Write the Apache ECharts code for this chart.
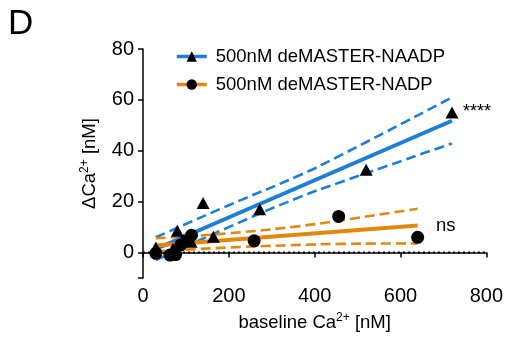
<!DOCTYPE html>
<html>
<head>
<meta charset="utf-8">
<script src="https://cdn.jsdelivr.net/npm/echarts@6/dist/echarts.min.js"></script>
<style>html,body{margin:0;padding:0;background:#fff}#c{width:506px;height:345px}</style>
</head>
<body>
<div id="c"></div>
<script>
// ---- data ----
const naadpName = '500nM deMASTER-NAADP';
const nadpName = '500nM deMASTER-NADP';
const naadpX = [30, 70, 80, 95, 112, 140, 164, 272, 520, 720];
const naadpY = [2, 1.5, 8.6, 5, 4.2, 19.5, 6.2, 17, 32.5, 55];
const nadpX = [30, 63, 76, 88, 100, 113, 259, 456, 640];
const nadpY = [-0.3, -1, -0.8, 3, 4.5, 6.8, 4.6, 14.2, 6];
// regression fit lines (end points) and confidence bands
const naadpFitX = [30, 720];
const naadpFitY = [1.4, 51.8];
const naadpBandX = [30, 200, 365, 458, 720];
const naadpUpperY = [6.0, 18.6, 30.4, 38.0, 61.0];
const naadpLowerY = [-3.0, 10.0, 21.8, 27.5, 42.9];
const nadpFitX = [30, 640];
const nadpFitY = [2.8, 10.6];
const nadpBandX = [30, 202, 365, 458, 640];
const nadpUpperY = [5.6, 7.6, 10.4, 12.6, 17.2];
const nadpLowerY = [0.5, 2.0, 3.0, 3.4, 3.6];
const zeroLineX = [0, 800];
const zeroLineY = [0, 0];
const xTicks = [0, 200, 400, 600, 800];
const yTickValues = [-10, 0, 20, 40, 60, 80];
const yLabelValues = [0, 20, 40, 60, 80];

const BLUE = '#1b7fd8';
const ORANGE = '#e4870f';
const FONT = 'Arial, "Liberation Sans", sans-serif';
const zip = (xs, ys) => xs.map((x, i) => [x, ys[i]]);

const chart = echarts.init(document.getElementById('c'), null, {renderer: 'canvas'});
const supRich = {
  n: {fontSize: 18.5, fontFamily: FONT, color: '#000'},
  s: {fontSize: 12, fontFamily: FONT, color: '#000', padding: [0, 0, 9, 0]}
};
const option = {
  animation: false,
  backgroundColor: '#fff',
  textStyle: {fontFamily: FONT},
  grid: {left: 143, right: 19, top: 49, bottom: 67, containLabel: false},
  legend: {
    orient: 'vertical', left: 170, top: 42, itemWidth: 30, itemHeight: 13, itemGap: 9,
    lineStyle: {width: 3.5},
    textStyle: {fontSize: 18.5, fontFamily: FONT, color: '#000', padding: [0, 0, 0, 4]},
    data: [naadpName, nadpName]
  },
  xAxis: {
    type: 'value', min: 0, max: 800, interval: 200,
    name: '{n|baseline Ca}{s|2+}{n| [nM]}', nameLocation: 'middle', nameGap: 34,
    nameTextStyle: {rich: supRich},
    axisLine: {show: true, lineStyle: {color: '#000', width: 1.5}},
    axisTick: {show: true, length: 5, lineStyle: {color: '#000', width: 1.5}, customValues: xTicks},
    axisLabel: {fontSize: 20, color: '#000', margin: 8, fontFamily: FONT, customValues: xTicks},
    splitLine: {show: false}
  },
  yAxis: {
    type: 'value', min: -10, max: 80, interval: 10,
    name: '{n|ΔCa}{s|2+}{n| [nM]}', nameLocation: 'middle', nameGap: 43, nameRotate: 90,
    nameTextStyle: {rich: supRich},
    axisLine: {show: true, onZero: false, lineStyle: {color: '#000', width: 1.5}},
    axisTick: {show: true, length: 5, lineStyle: {color: '#000', width: 1.5}, customValues: yTickValues},
    axisLabel: {fontSize: 20, color: '#000', margin: 9, fontFamily: FONT, customValues: yLabelValues},
    splitLine: {show: false}
  },
  graphic: [
    {type: 'text', left: 8, top: 7, style: {text: 'D', fontSize: 35, fontFamily: FONT, fill: '#000'}},
    {type: 'text', left: 463, top: 103, style: {text: '****', fontSize: 18, fontFamily: FONT, fill: '#000'}},
    {type: 'text', left: 436, top: 216, style: {text: 'ns', fontSize: 18.5, fontFamily: FONT, fill: '#000'}}
  ],
  series: [
    {type: 'line', data: zip(zeroLineX, zeroLineY), symbol: 'none', silent: true,
     lineStyle: {color: '#000', width: 2, type: [2, 3]}, z: 1},
    {name: naadpName, type: 'line', data: zip(naadpFitX, naadpFitY), symbol: 'triangle', symbolSize: 11, showSymbol: false,
     itemStyle: {color: '#000'}, lineStyle: {color: BLUE, width: 4}, z: 3},
    {type: 'line', data: zip(naadpBandX, naadpUpperY), symbol: 'none', smooth: true,
     lineStyle: {color: BLUE, width: 2.6, type: [10, 5]}, z: 2},
    {type: 'line', data: zip(naadpBandX, naadpLowerY), symbol: 'none', smooth: true,
     lineStyle: {color: BLUE, width: 2.6, type: [10, 5]}, z: 2},
    {name: nadpName, type: 'line', data: zip(nadpFitX, nadpFitY), symbol: 'circle', symbolSize: 11, showSymbol: false,
     itemStyle: {color: '#000'}, lineStyle: {color: ORANGE, width: 4}, z: 3},
    {type: 'line', data: zip(nadpBandX, nadpUpperY), symbol: 'none', smooth: true,
     lineStyle: {color: ORANGE, width: 2.6, type: [10, 5]}, z: 2},
    {type: 'line', data: zip(nadpBandX, nadpLowerY), symbol: 'none', smooth: true,
     lineStyle: {color: ORANGE, width: 2.6, type: [10, 5]}, z: 2},
    {type: 'scatter', data: zip(naadpX, naadpY), symbol: 'triangle', symbolSize: [13, 12],
     itemStyle: {color: '#000', opacity: 1}, z: 5},
    {type: 'scatter', data: zip(nadpX, nadpY), symbol: 'circle', symbolSize: 13,
     itemStyle: {color: '#000', opacity: 1}, z: 5}
  ]
};
chart.setOption(option);
</script>
</body>
</html>
